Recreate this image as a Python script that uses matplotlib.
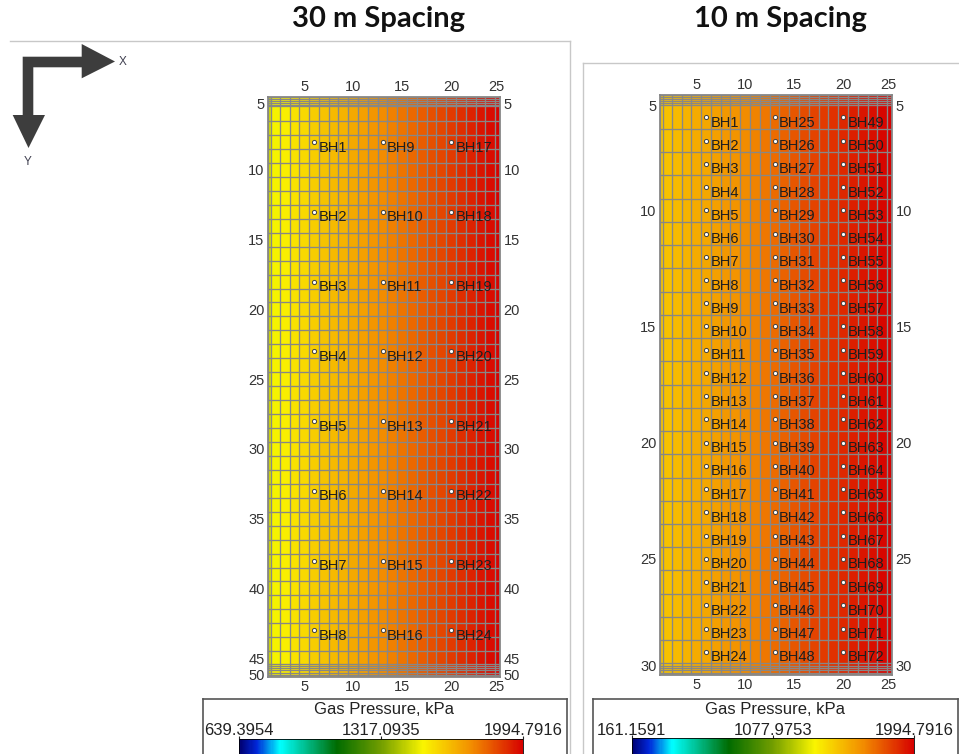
import numpy as np
import matplotlib
matplotlib.use("Agg")
import matplotlib.pyplot as plt
from matplotlib.colors import LinearSegmentedColormap, Normalize
from matplotlib.cm import ScalarMappable
from matplotlib.patches import Polygon

plt.rcParams['font.family'] = ['Liberation Sans', 'DejaVu Sans']

W, H = 959, 754

# ---------------- data ----------------
# model grid column edges (same for both models, in grid units)
col_edges = [1.3, 1.65, 2.5, 3.5, 4.5, 5.5, 6.5, 7.5, 8.5, 9.5, 10.5, 11.5, 12.5,
             13.5, 14.5, 15.5, 16.5, 17.5, 18.5, 19.5, 20.5, 21.5, 22.5, 23.5, 24.5, 25.0]

# gas pressure per column (kPa)
p30 = [1462, 1510, 1530, 1558, 1580, 1603, 1625, 1646, 1666, 1686, 1706, 1726, 1746,
       1768, 1789, 1810, 1831, 1852, 1872, 1893, 1913, 1933, 1953, 1972, 1988]
p10 = [1489, 1503, 1525, 1545, 1566, 1586, 1604, 1623, 1643, 1664, 1684, 1710, 1740,
       1765, 1790, 1810, 1833, 1853, 1876, 1899, 1919, 1941, 1958, 1976, 1991]

# row edges: refined rows at the top and bottom boundaries
rows30_edges = (list(np.linspace(4.77, 5.45, 6)) +
                [6.5, 7.5, 8.5, 9.5, 10.5, 11.5, 12.5, 13.5, 14.5, 15.5, 16.5, 17.5, 18.5,
                 19.5, 20.5, 21.5, 22.5, 23.5, 24.5, 25.5, 26.5, 27.5, 28.5, 29.5, 30.5,
                 31.5, 32.5, 33.5, 34.5, 35.5, 36.5, 37.5, 38.5, 39.5, 40.5, 41.5, 42.5,
                 43.5, 44.5] +
                list(np.linspace(45.4, 46.35, 7)))
rows10_edges = (list(np.linspace(5.05, 5.48, 6)) +
                [6.5, 7.5, 8.5, 9.5, 10.5, 11.5, 12.5, 13.5, 14.5, 15.5, 16.5, 17.5, 18.5,
                 19.5, 20.5, 21.5, 22.5, 23.5, 24.5, 25.5, 26.5, 27.5, 28.5] +
                list(np.linspace(29.5, 30.0, 6)))

# boreholes
bh30_cols = [6, 13, 20]
bh30_rows = [8, 13, 18, 23, 28, 33, 38, 43]
bh10_cols = [6, 13, 20]
bh10_rows = [6, 7, 8, 9, 10, 11, 12, 13, 14, 15, 16, 17, 18, 19, 20, 21, 22, 23,
             24, 25, 26, 27, 28, 29]

# colour scale ranges
range30 = [639.3954, 1994.7916]
range30_labels = ['639.3954', '1317.0935', '1994.7916']
range10 = [161.1591, 1994.7916]
range10_labels = ['161.1591', '1077.9753', '1994.7916']

# tick labels
x_tick_labels = ['5', '10', '15', '20', '25']
y30_tick_labels = ['5', '10', '15', '20', '25', '30', '35', '40', '45', '50']
y10_tick_labels = ['5', '10', '15', '20', '25', '30']

titles = ['30 m Spacing', '10 m Spacing']
cbar_title = 'Gas Pressure, kPa'

# ---------------- colour map ----------------
cmap = LinearSegmentedColormap.from_list('gas', [
    (0.0, (0.0, 0.0, 0.45)),
    (0.06, (0.0, 0.15, 0.85)),
    (0.143, (0.0, 1.0, 1.0)),
    (0.343, (0.0, 0.42, 0.0)),
    (0.5, (0.45, 0.62, 0.0)),
    (0.648, (0.98, 0.96, 0.0)),
    (0.82, (0.95, 0.55, 0.0)),
    (1.0, (0.84, 0.0, 0.0)),
])

GRID = '#878787'

fig = plt.figure(figsize=(W / 100, H / 100), dpi=100)


def px_rect(x0, y0, x1, y1):
    return [x0 / W, 1 - y1 / H, (x1 - x0) / W, (y1 - y0) / H]


# ---------------- decorations overlay ----------------
ov = fig.add_axes([0, 0, 1, 1], zorder=0)
ov.set_xlim(0, W)
ov.set_ylim(H, 0)
ov.axis('off')
fc = '#c8c8c8'
ov.plot([10, 570], [41, 41], color=fc, lw=1)
ov.plot([570, 570], [41, H], color=fc, lw=1)
ov.plot([583, W], [63, 63], color=fc, lw=1)
ov.plot([583, 583], [63, H], color=fc, lw=1)
arrow = Polygon([(22.7, 56.7), (81.7, 56.7), (81.7, 44), (115, 61.5), (81.7, 78.3),
                 (81.7, 67.3), (33.3, 67.3), (33.3, 115), (45, 115), (28.5, 148),
                 (12.7, 115), (22.7, 115)], closed=True, facecolor='#3d3d3d',
                edgecolor='none')
ov.add_patch(arrow)
ov.text(123, 62, 'X', fontsize=8.5, color='#404050', ha='center', va='center')
ov.text(28, 162, 'Y', fontsize=8.5, color='#404050', ha='center', va='center')

for t, cx in zip(titles, [379, 780]):
    fig.text(cx / W, 1 - 19 / H, t, fontsize=21, fontweight='bold', family='Lato',
             ha='center', va='center', color='#111111')


def panel(rect, pvals, row_edges, vrange, xticks, yticks, ylabels, cols, rows, start):
    ax = fig.add_axes(px_rect(*rect), zorder=2)
    Z = np.tile(np.asarray(pvals, float), (len(row_edges) - 1, 1))
    ax.pcolormesh(col_edges, row_edges, Z, cmap=cmap,
                  norm=Normalize(vrange[0], vrange[1]), edgecolors='none',
                  antialiased=False)
    ax.vlines(col_edges, row_edges[0], row_edges[-1], color=GRID, lw=0.95)
    ax.hlines(row_edges, col_edges[0], col_edges[-1], color=GRID, lw=0.95)
    ax.set_xlim(col_edges[0], col_edges[-1])
    ax.set_ylim(row_edges[-1], row_edges[0])
    ax.set_xticks(xticks, x_tick_labels)
    ax.set_yticks(yticks, ylabels)
    ax.tick_params(axis='both', length=0, labelsize=10.5, colors='#333333',
                   top=True, labeltop=True, right=True, labelright=True, pad=2.5)
    for s in ax.spines.values():
        s.set_color(GRID)
        s.set_linewidth(1.3)
    n = start
    for c in cols:
        for r in rows:
            ax.scatter([c], [r], s=9, facecolor='white', edgecolor='#404040',
                       linewidth=0.7, zorder=4)
            ax.annotate('BH%d' % n, (c, r), xytext=(3.3, -4), textcoords='offset points',
                        ha='left', va='center', fontsize=10.5, color='#1e1e1e', zorder=5)
            n += 1
    return ax


panel((268, 97, 500, 677), p30, rows30_edges, range30,
      [5, 10, 15, 20, 24.65], [5.27, 10, 15, 20, 25, 30, 35, 40, 45, 46.2],
      y30_tick_labels, bh30_cols, bh30_rows, 1)
panel((660, 95.3, 892, 675), p10, rows10_edges, range10,
      [5, 10, 15, 20, 24.62], [5.47, 10, 15, 20, 25, 29.57],
      y10_tick_labels, bh10_cols, bh10_rows, 1)


def cbox(box, strip, vrange, labels, title_x):
    bx = fig.add_axes(px_rect(*box), zorder=1)
    bx.set_xticks([])
    bx.set_yticks([])
    for s in bx.spines.values():
        s.set_color('#555555')
        s.set_linewidth(1.2)
    cax = fig.add_axes(px_rect(*strip), zorder=3)
    sm = ScalarMappable(norm=Normalize(vrange[0], vrange[1]), cmap=cmap)
    cb = fig.colorbar(sm, cax=cax, orientation='horizontal')
    mid = (vrange[0] + vrange[1]) / 2
    cb.set_ticks([vrange[0], mid, vrange[1]], labels=labels)
    cax.xaxis.set_ticks_position('top')
    cax.xaxis.set_label_position('top')
    cax.tick_params(length=2.2, width=0.8, pad=-1.5, labelsize=12, colors='#222222')
    cb.outline.set_linewidth(0.6)
    fig.text(title_x / W, 1 - 710 / H, cbar_title, ha='center', va='center',
             fontsize=12, color='#222222')


cbox((202.7, 698.5, 566.7, 770), (239.3, 739.3, 523.3, 775), range30, range30_labels, 384)
cbox((593.3, 698.5, 957.7, 770), (631.7, 738.5, 914.3, 775), range10, range10_labels, 775)

fig.savefig('out.png', dpi=100)
